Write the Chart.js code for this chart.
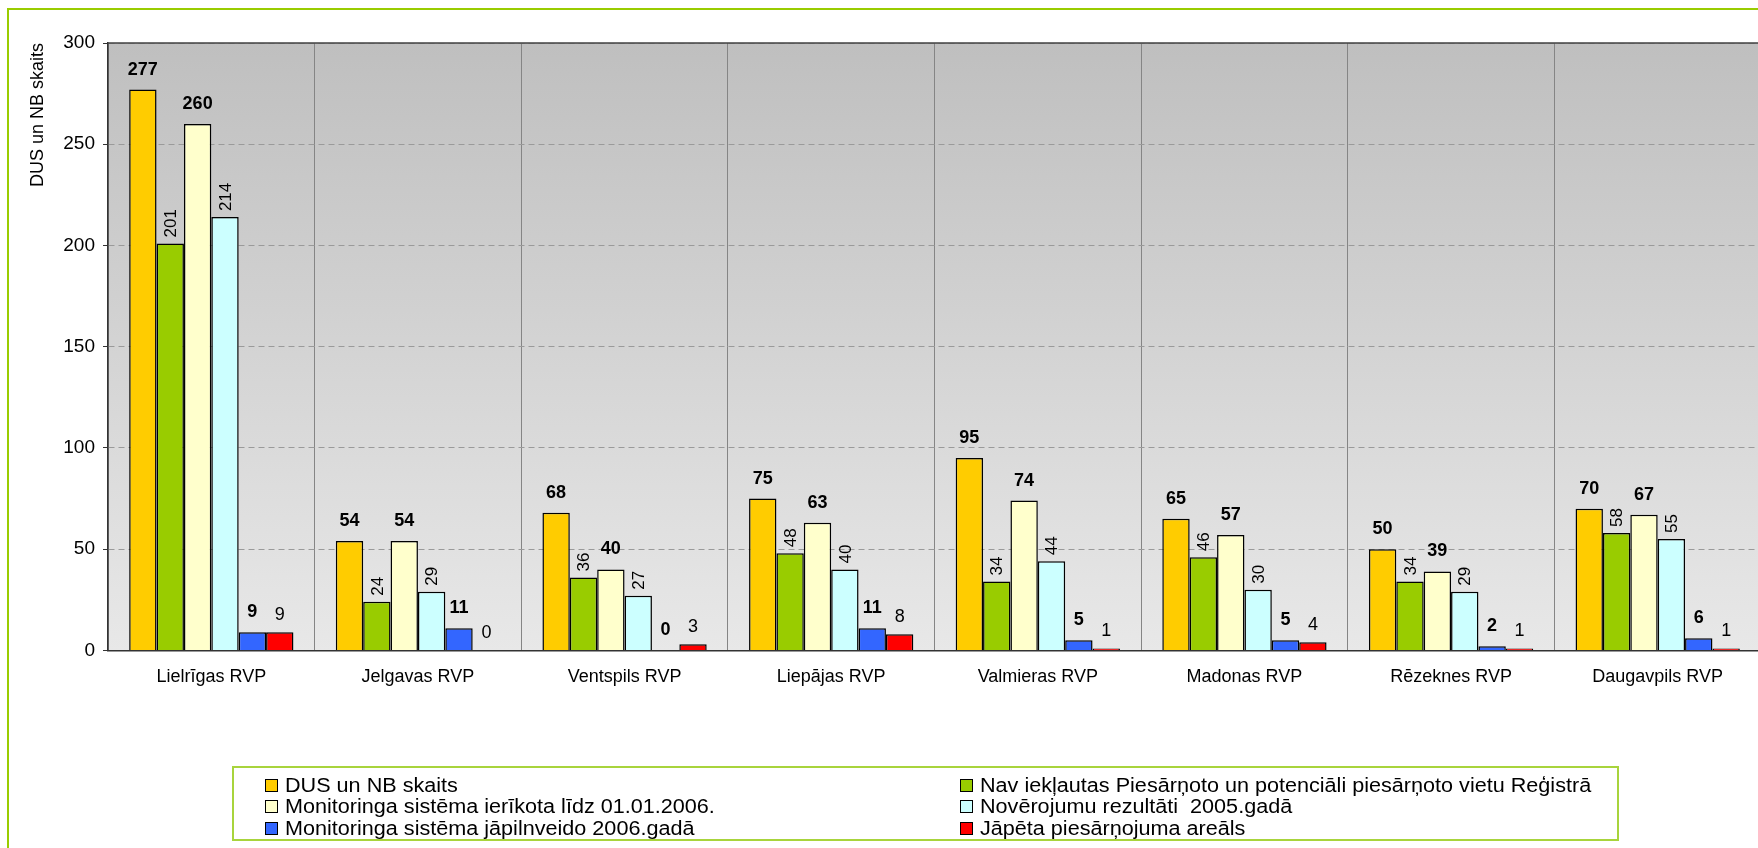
<!DOCTYPE html>
<html>
<head>
<meta charset="utf-8">
<script src="https://cdn.jsdelivr.net/npm/chart.js@4.4.1/dist/chart.umd.min.js"></script>
<style>
  body { margin: 0; background: #fff; overflow: hidden; font-family: "Liberation Sans", Arial, sans-serif; }
  #wrap { position: relative; width: 1780px; height: 848px; }
  #frame { position: absolute; left: 7px; top: 8px; width: 1800px; height: 900px; border: 2px solid #99cc00; box-sizing: border-box; pointer-events: none; }
  #legend { position: absolute; left: 232px; top: 766px; width: 1387px; height: 75px; border: 2px solid #a8d43c; box-sizing: border-box; padding: 7px 0 0 31px; display: grid; grid-template-columns: 695px auto; font-size: 20px; line-height: 19.5px; color: #000; }
  #legend .item { display: flex; align-items: center; white-space: pre; }
  #legend .box { width: 11px; height: 11px; border: 1px solid #000; margin-right: 7px; flex: none; }
  #legend .txt { display: inline-block; transform: scaleX(1.08); transform-origin: left center; }
</style>
</head>
<body>
<div id="wrap">
  <canvas id="rvpChart"></canvas>
  <div id="frame"></div>
  <div id="legend"></div>
</div>
<script>
const categories = ['Lielrīgas RVP', 'Jelgavas RVP', 'Ventspils RVP', 'Liepājas RVP', 'Valmieras RVP', 'Madonas RVP', 'Rēzeknes RVP', 'Daugavpils RVP'];
const seriesNames = [
  'DUS un NB skaits',
  'Nav iekļautas Piesārņoto un potenciāli piesārņoto vietu Reģistrā',
  'Monitoringa sistēma ierīkota līdz 01.01.2006.',
  'Novērojumu rezultāti  2005.gadā',
  'Monitoringa sistēma jāpilnveido 2006.gadā',
  'Jāpēta piesārņojuma areāls'
];
const dusNb       = [277, 54, 68, 75, 95, 65, 50, 70];
const navRegistra = [201, 24, 36, 48, 34, 46, 34, 58];
const ierikota    = [260, 54, 40, 63, 74, 57, 39, 67];
const novērojumi  = [214, 29, 27, 40, 44, 30, 29, 55];
const japilnveido = [9, 11, 0, 11, 5, 5, 2, 6];
const japeta      = [9, 0, 3, 8, 1, 4, 1, 1];
const yTicks = [0, 50, 100, 150, 200, 250, 300];

const colors = ['#ffcc00', '#99cc00', '#ffffcc', '#ccffff', '#3366ff', '#ff0000'];
const labelKinds = ['bold', 'rot', 'bold', 'rot', 'bold', 'plain'];
const allSeries = [dusNb, navRegistra, ierikota, novērojumi, japilnveido, japeta];

const FONT = '"Liberation Sans", Arial, sans-serif';

// gradient background of the plot area
const plotBg = {
  id: 'plotBg',
  beforeDraw(chart) {
    const { ctx, chartArea: a } = chart;
    const g = ctx.createLinearGradient(0, a.top, 0, a.bottom);
    g.addColorStop(0, '#bfbfbf');
    g.addColorStop(1, '#e8e8e8');
    ctx.save();
    ctx.fillStyle = g;
    ctx.fillRect(a.left, a.top, a.right - a.left, a.bottom - a.top);
    ctx.restore();
  },
  afterDraw(chart) {
    // dark top edge of the plot
    const { ctx, chartArea: a } = chart;
    ctx.save();
    ctx.strokeStyle = '#404040';
    ctx.lineWidth = 1.5;
    ctx.beginPath();
    ctx.moveTo(a.left, a.top);
    ctx.lineTo(a.right, a.top);
    ctx.stroke();
    ctx.restore();
  }
};

// value labels above bars
const barLabels = {
  id: 'barLabels',
  afterDatasetsDraw(chart) {
    const ctx = chart.ctx;
    chart.data.datasets.forEach((ds, i) => {
      const meta = chart.getDatasetMeta(i);
      meta.data.forEach((bar, j) => {
        const v = ds.data[j];
        ctx.save();
        ctx.fillStyle = '#000';
        if (ds.labelKind === 'rot') {
          ctx.font = '17px ' + FONT;
          ctx.translate(bar.x + 1, bar.y - 6);
          ctx.rotate(-Math.PI / 2);
          ctx.textAlign = 'left';
          ctx.textBaseline = 'middle';
          ctx.fillText(String(v), 0, 0);
        } else if (ds.labelKind === 'bold') {
          ctx.font = 'bold 18px ' + FONT;
          ctx.textAlign = 'center';
          ctx.textBaseline = 'alphabetic';
          ctx.fillText(String(v), bar.x, bar.y - 15);
        } else {
          ctx.font = '18px ' + FONT;
          ctx.textAlign = 'center';
          ctx.textBaseline = 'alphabetic';
          ctx.fillText(String(v), bar.x, bar.y - 12);
        }
        ctx.restore();
      });
    });
  }
};

const chart = new Chart(document.getElementById('rvpChart'), {
  type: 'bar',
  data: {
    labels: categories,
    datasets: allSeries.map((vals, i) => ({
      label: seriesNames[i],
      data: vals,
      backgroundColor: colors[i],
      borderColor: '#000',
      borderWidth: 1.5,
      categoryPercentage: 0.795,
      barPercentage: 1,
      labelKind: labelKinds[i]
    }))
  },
  options: {
    responsive: true,
    maintainAspectRatio: false,
    animation: false,
    layout: { padding: { left: 8, top: 43, right: 19, bottom: 144 } },
    plugins: {
      legend: { display: false },
      tooltip: { enabled: false }
    },
    scales: {
      x: {
        grid: { color: '#858585', lineWidth: 1, drawTicks: false },
        border: { color: '#333', width: 1.5 },
        ticks: { color: '#000', font: { family: FONT, size: 18 }, padding: 16, maxRotation: 0 }
      },
      y: {
        min: 0,
        max: 300,
        afterBuildTicks(scale) { scale.ticks = yTicks.map(v => ({ value: v })); },
        afterFit(scale) { scale.width = 100; },
        grid: {
          color: '#9a9a9a',
          lineWidth: 1,
          tickLength: 5,
          tickColor: '#333',
          tickBorderDash: []
        },
        border: { color: '#333', width: 1.5, dash: [6, 4] },
        ticks: { color: '#000', font: { family: FONT, size: 19 }, padding: 8 },
        title: {
          display: true,
          text: 'DUS un NB skaits',
          align: 'end',
          color: '#000',
          font: { family: FONT, size: 18 },
          padding: { top: 19, bottom: 0 }
        }
      }
    }
  },
  plugins: [plotBg, barLabels]
});

// legend built from the chart datasets, two columns like the original
const legendEl = document.getElementById('legend');
chart.data.datasets.forEach(ds => {
  const item = document.createElement('div');
  item.className = 'item';
  const box = document.createElement('span');
  box.className = 'box';
  box.style.background = ds.backgroundColor;
  const txt = document.createElement('span');
  txt.className = 'txt';
  txt.textContent = ds.label;
  item.appendChild(box);
  item.appendChild(txt);
  legendEl.appendChild(item);
});
</script>
</body>
</html>
